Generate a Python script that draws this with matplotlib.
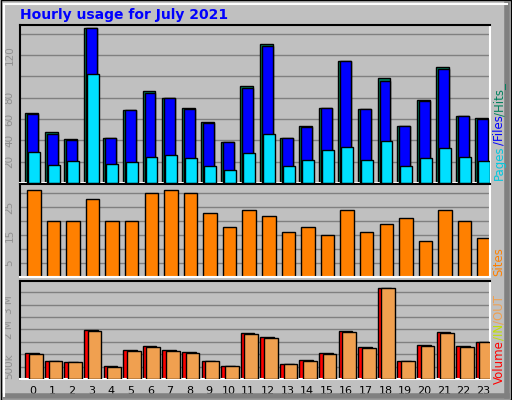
import matplotlib
matplotlib.use("Agg")
import matplotlib.pyplot as plt
from matplotlib.patches import Rectangle
import numpy as np

hours = list(range(24))
hits = [66, 48, 41, 145, 42, 68, 86, 80, 70, 57, 38, 91, 130, 42, 53, 70, 114, 69, 98, 53, 78, 109, 63, 61]
files = [65, 46, 40, 145, 42, 68, 84, 80, 69, 56, 38, 89, 128, 42, 52, 70, 114, 69, 96, 53, 77, 107, 63, 60]
pages = [29, 17, 21, 102, 18, 20, 24, 26, 23, 16, 12, 28, 46, 16, 22, 31, 34, 22, 39, 16, 23, 33, 24, 21]
sites = [31, 20, 20, 28, 20, 20, 30, 31, 30, 23, 18, 24, 22, 16, 18, 15, 24, 16, 19, 21, 13, 24, 20, 14]
vol_in = [1.03, 0.74, 0.70, 1.97, 0.54, 1.15, 1.31, 1.15, 1.07, 0.74, 0.54, 1.84, 1.69, 0.62, 0.78, 1.03, 1.92, 1.27, 3.66, 0.74, 1.39, 1.88, 1.31, 1.51]
vol_out = [0.99, 0.74, 0.70, 1.93, 0.50, 1.11, 1.27, 1.11, 1.03, 0.74, 0.54, 1.80, 1.65, 0.62, 0.74, 0.99, 1.88, 1.23, 3.66, 0.74, 1.35, 1.84, 1.27, 1.51]

BG = "#C0C0C0"
GRID = "#808080"
x = np.array(hours)

fig = plt.figure(figsize=(5.12, 4.0), dpi=100, facecolor=BG)
# 3D-ish frame: shadow on right/bottom
fig.add_artist(plt.Line2D([0.99, 0.99], [0.01, 0.99], transform=fig.transFigure, color="#808080", lw=4))
fig.add_artist(plt.Line2D([0.01, 0.99], [0.01, 0.01], transform=fig.transFigure, color="#808080", lw=4))
fig.add_artist(plt.Line2D([0.008, 0.008], [0.01, 0.99], transform=fig.transFigure, color="white", lw=1.5))
fig.add_artist(plt.Line2D([0.008, 0.99], [0.99, 0.99], transform=fig.transFigure, color="white", lw=1.5))
fig.patches.append(Rectangle((0.001, 0.001), 0.998, 0.998, transform=fig.transFigure,
                             fill=False, edgecolor="black", lw=1, zorder=0))

def setup(ax, ylim, grid, labels, labvals):
    ax.set_facecolor(BG)
    ax.set_xlim(-0.66, 23.34)
    ax.set_ylim(*ylim)
    for g in grid:
        ax.axhline(g, color=GRID, lw=1, zorder=0)
    ax.set_yticks(labvals)
    ax.set_yticklabels(labels, rotation=90, va="center", color="#909090", fontsize=7.5)
    ax.tick_params(axis="y", length=0, pad=4)
    ax.tick_params(axis="x", length=0)
    ax.set_xticks([])
    for s in ["top", "left"]:
        ax.spines[s].set_color("black")
    for s in ["bottom", "right"]:
        ax.spines[s].set_color("white")
    for s in ax.spines.values():
        s.set_linewidth(1.5)

ax1 = fig.add_axes([0.039, 0.5425, 0.918, 0.395])
setup(ax1, (0, 148), range(20, 141, 20), ["20", "40", "60", "80", "120"], [20, 40, 60, 80, 120])
ax1.bar(x - 0.07, hits, width=0.66, color="#00805C", edgecolor="black", lw=1, zorder=2)
ax1.bar(x - 0.02, files, width=0.56, color="#0000FF", edgecolor="black", lw=1, zorder=3)
ax1.bar(x + 0.055, pages, width=0.61, color="#00E0FF", edgecolor="black", lw=1, zorder=4)

ax2 = fig.add_axes([0.039, 0.3075, 0.918, 0.2325])
setup(ax2, (0, 33.3), range(5, 31, 5), ["5", "15", "25"], [5, 15, 25])
ax2.bar(x + 0.045, sites, width=0.69, color="#FF8000", edgecolor="black", lw=1, zorder=2)

ax3 = fig.add_axes([0.039, 0.0525, 0.918, 0.245])
setup(ax3, (0, 3.95), np.arange(0.5, 3.6, 0.5), ["500k", "2 M", "3 M"], [0.5, 2, 3])
ax3.bar(x - 0.04, vol_in, width=0.70, color="#FF0000", edgecolor="black", lw=1, zorder=2)
ax3.bar(x + 0.15, vol_out, width=0.70, color="#F0A050", edgecolor="black", lw=1, zorder=3)
ax3.set_xticks(hours)
ax3.set_xticklabels([str(h) for h in hours], fontsize=8)
ax3.tick_params(axis="x", pad=5)

fig.text(0.039, 0.962, "Hourly usage for July 2021", color="#0000FF",
         fontsize=10, fontweight="bold", va="center", ha="left")

fig.canvas.draw()
r = fig.canvas.get_renderer()
def vlabel(parts, xf, y0):
    y = y0
    for txt, col in parts:
        t = fig.text(xf, y, txt, color=col, rotation=90, fontsize=8.5, ha="center", va="bottom")
        bb = t.get_window_extent(renderer=r)
        y += bb.height / fig.bbox.height
vlabel([("Pages", "#00C8E0"), ("/Files", "#0000FF"), ("/Hits_", "#00805C")], 0.975, 0.55)
vlabel([("Sites", "#FF8000")], 0.975, 0.31)
vlabel([("Volume", "#FF0000"), ("/IN", "#C0E000"), ("/OUT", "#F0A050")], 0.975, 0.04)

fig.savefig("out.png", dpi=100, facecolor=BG)
